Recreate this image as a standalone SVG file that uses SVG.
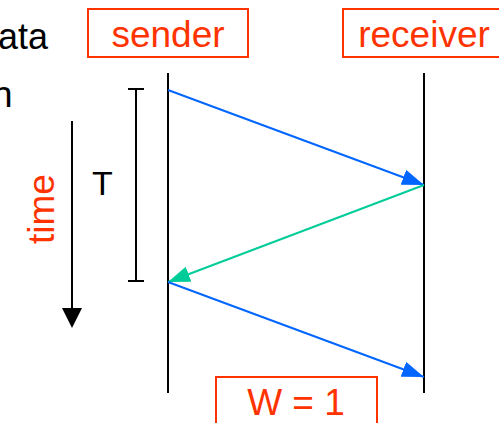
<svg xmlns="http://www.w3.org/2000/svg" width="499" height="423" viewBox="0 0 499 423">
<defs>
<style>
text{font-family:"Liberation Sans",Arial,sans-serif;font-size:37px}
.red{fill:#FF3300}
.blk{fill:#000}
.box{fill:#fff;stroke:#FF3300;stroke-width:2}
.life{stroke:#000;stroke-width:2;fill:none}
.blue{stroke:#0066FF;stroke-width:2;fill:none}
.green{stroke:#00CC99;stroke-width:2;fill:none}
</style>
<marker id="ab" viewBox="0 0 22 16" refX="22" refY="8" markerWidth="22" markerHeight="16" markerUnits="userSpaceOnUse" orient="auto"><path d="M0,0 L22,8 L0,16 z" fill="#0066FF"/></marker>
<marker id="ag" viewBox="0 0 22 16" refX="22" refY="8" markerWidth="22" markerHeight="16" markerUnits="userSpaceOnUse" orient="auto"><path d="M0,0 L22,8 L0,16 z" fill="#00CC99"/></marker>
</defs>
<text x="-2" y="49" class="blk" textLength="50" lengthAdjust="spacingAndGlyphs">ata</text>
<text x="-8" y="107" class="blk">n</text>
<g id="sender">
<rect class="box" x="88" y="9" width="160" height="48"/>
<text x="168" y="47" text-anchor="middle" class="red">sender</text>
<line class="life" x1="168" y1="73" x2="168" y2="393"/>
</g>
<g id="receiver">
<rect class="box" x="343" y="9" width="160" height="48"/>
<text x="424" y="47" text-anchor="middle" class="red">receiver</text>
<line class="life" x1="424" y1="73" x2="424" y2="393"/>
</g>
<g id="timeaxis">
<line class="life" x1="72" y1="121" x2="72" y2="308"/>
<path d="M62,308 L82,308 L72,328 z" fill="#000"/>
<text transform="translate(54,209) rotate(-90)" text-anchor="middle" class="red">time</text>
</g>
<g id="period">
<line class="life" x1="136" y1="89" x2="136" y2="281"/>
<line class="life" x1="128" y1="89" x2="144" y2="89"/>
<line class="life" x1="128" y1="281" x2="144" y2="281"/>
<text x="102.5" y="195" text-anchor="middle" class="blk" style="font-size:34px">T</text>
</g>
<g id="connectors">
<line class="blue" x1="168" y1="90" x2="424" y2="185" marker-end="url(#ab)"/>
<line class="green" x1="424" y1="185" x2="168" y2="282" marker-end="url(#ag)"/>
<line class="blue" x1="168" y1="282" x2="424" y2="377" marker-end="url(#ab)"/>
</g>
<g id="window">
<rect class="box" x="216" y="377" width="161" height="60"/>
<text x="296" y="415" text-anchor="middle" class="red">W = 1</text>
</g>
</svg>
